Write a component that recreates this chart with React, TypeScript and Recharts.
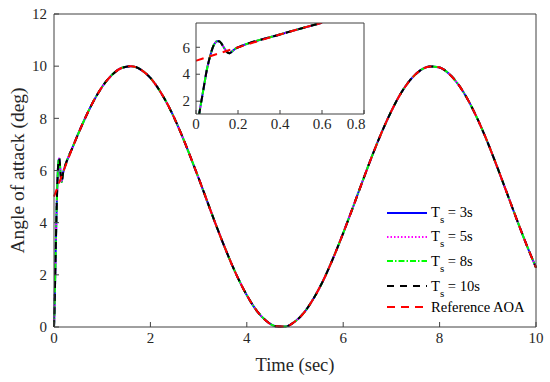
import React from 'react'
import { LineChart, Line, XAxis, YAxis, Legend, CartesianGrid } from 'recharts'

// time grid of the full run (sec)
const gridTime = [
  0, 0.2, 0.4, 0.6, 0.8, 1, 1.2, 1.4, 1.6, 1.8, 2, 2.2, 2.4, 2.6, 2.8, 3, 3.2, 3.4, 3.6, 3.8, 4,
  4.2, 4.4, 4.6, 4.8, 5, 5.2, 5.4, 5.6, 5.8, 6, 6.2, 6.4, 6.6, 6.8, 7, 7.2, 7.4, 7.6, 7.8, 8,
  8.2, 8.4, 8.6, 8.8, 9, 9.2, 9.4, 9.6, 9.8, 10,
]
// reference AOA (deg)
const referenceAoa = [
  5.0, 5.99, 6.95, 7.82, 8.59, 9.21, 9.66, 9.93, 10.0, 9.87, 9.55, 9.04, 8.38, 7.58, 6.67, 5.71,
  4.71, 3.72, 2.79, 1.94, 1.22, 0.64, 0.24, 0.03, 0.02, 0.21, 0.58, 1.14, 1.84, 2.68, 3.6, 4.58,
  5.58, 6.56, 7.47, 8.28, 8.97, 9.49, 9.84, 9.99, 9.95, 9.7, 9.27, 8.67, 7.92, 7.06, 6.11, 5.12,
  4.13, 3.17, 2.28,
]
// start-up transient of the tracked AOA (all four Ts curves lie on top of each other)
const transientTime = [
  0, 0.01, 0.02, 0.03, 0.04, 0.05, 0.06, 0.07, 0.08, 0.09, 0.1, 0.11, 0.12, 0.13, 0.14, 0.15,
  0.16, 0.17, 0.18, 0.19, 0.2,
]
const transientAoa = [
  0, 0.6, 1.5, 2.4, 3.3, 4.2, 4.9, 5.5, 6.0, 6.3, 6.45, 6.45, 6.3, 6.05, 5.8, 5.62, 5.56, 5.66,
  5.8, 5.92, 5.99,
]

const xTicks = [0, 2, 4, 6, 8, 10]
const yTicks = [0, 2, 4, 6, 8, 10, 12]
const insetXTicks = [0, 0.2, 0.4, 0.6, 0.8]
const insetYTicks = [2, 4, 6]
const samplingTimes = ['3s', '5s', '8s', '10s']

const FONT = "'Liberation Serif', 'Times New Roman', serif"
const AXIS = '#404040'
const TEXT = '#262626'

type Row = { t: number; ts?: number; ref?: number }

const mainData: Row[] = [
  ...transientTime.map((t, i) => ({ t, ts: transientAoa[i] })),
  ...gridTime.map((t, i) => ({
    t,
    ref: referenceAoa[i],
    ts: t > 0.2 ? referenceAoa[i] : undefined,
  })),
].sort((a, b) => a.t - b.t)

const insetData = mainData.filter((d) => d.t <= 0.6)

const series = [
  { key: 's3', dataKey: 'ts', color: '#0000ff', dash: undefined },
  { key: 's5', dataKey: 'ts', color: '#ff00ff', dash: '1.5 2' },
  { key: 's8', dataKey: 'ts', color: '#00ff00', dash: '6 2 1.5 2' },
  { key: 's10', dataKey: 'ts', color: '#000000', dash: '7 6' },
  { key: 'ref', dataKey: 'ref', color: '#ff0000', dash: '8 6' },
]

const legendTops = [0, 24, 48.5, 73.5, 94]

function LegendBox() {
  return (
    <div style={{ position: 'relative', width: 160, height: 110, fontFamily: FONT, fontSize: 14.6, color: '#000' }}>
      {series.map((s, i) => (
        <div
          key={s.key}
          style={{ position: 'absolute', left: 0, top: legendTops[i], height: 16, display: 'flex', alignItems: 'center' }}
        >
          <svg width={40} height={4} style={{ display: 'block' }}>
            <line x1={0} x2={40} y1={2} y2={2} stroke={s.color} strokeWidth={2} strokeDasharray={s.dash} />
          </svg>
          <span style={{ marginLeft: 4, lineHeight: '16px', whiteSpace: 'nowrap' }}>
            {i < 4 ? (
              <>
                T<span style={{ fontSize: 11, position: 'relative', top: 6 }}>s</span> = {samplingTimes[i]}
              </>
            ) : (
              'Reference AOA'
            )}
          </span>
        </div>
      ))}
    </div>
  )
}

// serif tick labels (plain attributes did not pick up the font)
const BottomTick = (props: any) => (
  <text x={props.x} y={props.y} dy="0.71em" textAnchor="middle" fill={TEXT} style={{ fontFamily: FONT, fontSize: 15 }}>
    {props.payload.value}
  </text>
)
const LeftTick = (props: any) => (
  <text x={props.x} y={props.y} dy="0.35em" textAnchor="end" fill={TEXT} style={{ fontFamily: FONT, fontSize: 15 }}>
    {props.payload.value}
  </text>
)

function renderLines() {
  return series.map((s) => (
    <Line
      key={s.key}
      xAxisId="b"
      yAxisId="l"
      type="monotone"
      dataKey={s.dataKey}
      stroke={s.color}
      strokeWidth={2}
      strokeDasharray={s.dash}
      dot={false}
      activeDot={false}
      connectNulls
      isAnimationActive={false}
    />
  ))
}

export default function App() {
  return (
    <div style={{ position: 'absolute', left: 0, top: 0, width: 550, height: 382, background: '#fff', fontFamily: FONT }}>
      <LineChart width={550} height={382} data={mainData} margin={{ top: 13, right: 13, left: 0, bottom: 0 }}>
        <XAxis
          xAxisId="b"
          dataKey="t"
          type="number"
          domain={[0, 10]}
          ticks={xTicks}
          height={55}
          tickSize={-5}
          tickMargin={10}
          stroke={AXIS}
          tick={BottomTick}
          label={{ value: 'Time (sec)', position: 'center', dy: 10, style: { fontFamily: FONT, fontSize: 18.5, fill: TEXT } }}
        />
        <XAxis xAxisId="t" dataKey="t" type="number" orientation="top" domain={[0, 10]} ticks={xTicks} height={1} tickSize={-5} tick={false} stroke={AXIS} />
        <YAxis
          yAxisId="l"
          type="number"
          domain={[0, 12]}
          ticks={yTicks}
          width={54}
          tickSize={-5}
          tickMargin={12}
          stroke={AXIS}
          tick={LeftTick}
          label={{ value: 'Angle of attack (deg)', angle: -90, position: 'center', dx: -10, style: { fontFamily: FONT, fontSize: 19.5, fill: TEXT } }}
        />
        <YAxis yAxisId="r" type="number" orientation="right" domain={[0, 12]} ticks={yTicks} width={1} tickSize={-5} tick={false} stroke={AXIS} />
        {renderLines()}
        <Legend
          layout="vertical"
          align="center"
          verticalAlign="middle"
          wrapperStyle={{ left: 387, top: 204.7, width: 160 }}
          content={() => <LegendBox />}
        />
      </LineChart>

      <div style={{ position: 'absolute', left: 166, top: 10 }}>
        <LineChart width={200} height={130} data={insetData} margin={{ top: 12, right: 1, left: 0, bottom: 0 }}>
          <CartesianGrid xAxisId="b" yAxisId="l" horizontal={false} vertical={false} fill="#fff" fillOpacity={1} stroke="none" />
          <XAxis
            xAxisId="b"
            dataKey="t"
            type="number"
            domain={[0, 0.8]}
            ticks={insetXTicks}
            height={26}
            tickSize={-4}
            tickMargin={8}
            stroke={AXIS}
            tick={BottomTick}
            allowDataOverflow
          />
          <XAxis xAxisId="t" dataKey="t" type="number" orientation="top" domain={[0, 0.8]} ticks={insetXTicks} height={1} tickSize={-4} tick={false} stroke={AXIS} />
          <YAxis
            yAxisId="l"
            type="number"
            domain={[1.05, 7.8]}
            ticks={insetYTicks}
            width={30}
            tickSize={-4}
            tickMargin={10}
            stroke={AXIS}
            tick={LeftTick}
            allowDataOverflow
          />
          <YAxis yAxisId="r" type="number" orientation="right" domain={[1.05, 7.8]} ticks={insetYTicks} width={1} tickSize={-4} tick={false} stroke={AXIS} allowDataOverflow />
          {renderLines()}
        </LineChart>
      </div>
    </div>
  )
}
